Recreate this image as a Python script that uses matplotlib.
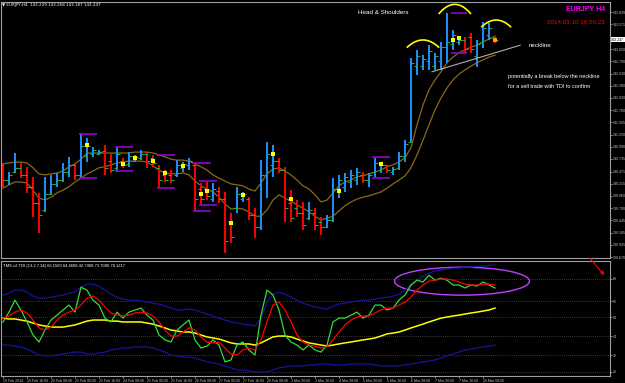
import numpy as np
import matplotlib
matplotlib.use("Agg")
import matplotlib.pyplot as plt
from matplotlib.patches import Ellipse
from matplotlib.transforms import blended_transform_factory

plt.rcParams['font.family'] = ['Liberation Sans', 'DejaVu Sans']

# EURJPY H4 bars, 19 Feb 2014 .. 10 Mar 2014 16:00
opens = [140.60, 140.30, 140.45, 140.55, 140.40, 140.15, 139.80, 139.65, 140.00, 140.20,
         140.30, 140.45, 140.60, 140.40, 140.80, 140.85, 140.85, 140.90, 140.70, 140.55,
         140.70, 140.62, 140.70, 140.75, 140.85, 140.75, 140.55, 140.40, 140.40, 140.40,
         140.55, 140.60, 140.60, 140.10, 140.10, 139.90, 140.05, 139.90, 139.40, 139.70,
         139.90, 139.90, 139.55, 139.30, 140.40, 140.60, 140.70, 140.50, 139.80, 139.70,
         139.60, 139.50, 139.60, 139.40, 139.30, 139.45, 140.10, 140.15, 140.25, 140.30,
         140.40, 140.30, 140.45, 140.50, 140.60, 140.45, 140.55, 140.80, 141.10, 142.70,
         142.70, 142.80, 142.70, 142.80, 143.10, 143.15, 143.20, 143.25, 143.30, 142.90,
         143.20, 143.35, 143.29]
highs = [140.65, 140.46, 140.86, 140.65, 140.57, 140.36, 140.02, 140.36, 140.40, 140.44,
         140.65, 140.78, 140.65, 141.28, 141.18, 140.99, 140.92, 141.03, 140.86, 140.99,
         140.76, 140.88, 140.82, 140.92, 140.88, 140.82, 140.61, 140.50, 140.50, 140.71,
         140.67, 140.76, 140.65, 140.23, 140.25, 140.23, 140.15, 140.04, 139.60, 140.15,
         140.04, 139.93, 139.70, 140.71, 141.09, 141.03, 140.76, 140.57, 140.08, 139.87,
         139.83, 139.83, 139.70, 139.51, 139.56, 140.33, 140.40, 140.44, 140.50, 140.55,
         140.46, 140.44, 140.76, 140.67, 140.61, 140.57, 140.88, 141.13, 142.86, 143.03,
         142.92, 143.13, 142.97, 143.20, 143.81, 143.45, 143.30, 143.30, 143.39, 143.24,
         143.62, 143.60, 143.30]
lows = [140.15, 140.19, 140.44, 140.33, 140.02, 139.51, 139.17, 139.62, 139.98, 140.15,
        140.25, 140.36, 140.29, 140.33, 140.67, 140.78, 140.82, 140.40, 140.44, 140.46,
        140.55, 140.57, 140.67, 140.71, 140.55, 140.57, 140.12, 140.25, 140.23, 140.36,
        140.46, 140.50, 139.62, 139.77, 139.87, 139.83, 139.81, 138.76, 138.97, 139.60,
        139.83, 139.45, 139.07, 139.24, 139.91, 140.36, 140.44, 139.41, 139.41, 139.51,
        139.24, 139.45, 139.24, 139.13, 139.28, 139.41, 139.91, 140.04, 140.12, 140.19,
        140.23, 140.15, 140.36, 140.44, 140.44, 140.40, 140.50, 140.67, 141.10, 142.50,
        142.61, 142.61, 142.61, 142.61, 142.76, 143.03, 143.13, 142.97, 142.97, 142.67,
        143.07, 143.24, 143.18]
closes = [140.30, 140.40, 140.55, 140.40, 140.15, 139.80, 139.55, 140.00, 140.20, 140.30,
          140.45, 140.60, 140.40, 141.00, 141.00, 140.92, 140.88, 140.55, 140.50, 140.85,
          140.60, 140.80, 140.78, 140.85, 140.70, 140.65, 140.30, 140.30, 140.30, 140.60,
          140.62, 140.70, 139.90, 139.90, 139.95, 140.10, 139.90, 139.00, 139.10, 140.00,
          140.00, 139.55, 139.30, 140.40, 140.85, 140.70, 140.50, 139.70, 139.50, 139.60,
          139.35, 139.65, 139.35, 139.30, 139.45, 140.10, 140.30, 140.35, 140.40, 140.45,
          140.30, 140.40, 140.65, 140.60, 140.50, 140.52, 140.80, 141.05, 142.75, 142.90,
          142.85, 143.00, 142.90, 143.10, 143.20, 143.35, 143.25, 143.05, 143.05, 143.15,
          143.50, 143.50, 143.25]

# two moving averages (fast / slow)
ma_fast = [140.63, 140.65, 140.67, 140.67, 140.65, 140.55, 140.42, 140.40, 140.42, 140.44,
           140.48, 140.57, 140.63, 140.73, 140.86, 140.86, 140.86, 140.86, 140.86, 140.86,
           140.86, 140.86, 140.88, 140.88, 140.88, 140.86, 140.82, 140.78, 140.73, 140.71,
           140.71, 140.69, 140.63, 140.57, 140.50, 140.40, 140.33, 140.27, 140.21, 140.19,
           140.17, 140.10, 140.06, 140.23, 140.42, 140.52, 140.55, 140.48, 140.40, 140.29,
           140.17, 140.10, 139.98, 139.83, 139.87, 140.02, 140.17, 140.25, 140.29, 140.36,
           140.38, 140.42, 140.46, 140.50, 140.57, 140.61, 140.67, 140.76, 140.97, 141.45,
           141.87, 142.19, 142.40, 142.57, 142.76, 142.88, 142.97, 143.03, 143.09, 143.13,
           143.20, 143.26, 143.32]
ma_slow = [140.12, 140.19, 140.25, 140.25, 140.23, 140.08, 139.91, 139.87, 139.93, 140.02,
           140.08, 140.15, 140.25, 140.33, 140.42, 140.48, 140.55, 140.57, 140.61, 140.65,
           140.67, 140.69, 140.69, 140.69, 140.67, 140.59, 140.50, 140.44, 140.42, 140.42,
           140.44, 140.40, 140.27, 140.17, 140.10, 140.04, 139.93, 139.79, 139.68, 139.70,
           139.68, 139.62, 139.53, 139.53, 139.66, 139.87, 139.98, 139.91, 139.85, 139.77,
           139.70, 139.62, 139.53, 139.45, 139.49, 139.53, 139.64, 139.75, 139.83, 139.89,
           139.93, 139.96, 140.00, 140.04, 140.12, 140.21, 140.29, 140.38, 140.55, 140.82,
           141.13, 141.45, 141.77, 142.02, 142.23, 142.40, 142.52, 142.61, 142.69, 142.76,
           142.82, 142.88, 142.92]

# fractal dots (bar index, price)
dot_idx = [14, 20, 22, 25, 27, 30, 33, 34, 38, 40, 45, 48, 56, 63, 75, 76]
dot_px = [141.03, 140.63, 140.76, 140.69, 140.44, 140.59, 139.99, 140.06, 139.39, 139.98,
          140.84, 139.89, 140.06, 140.63, 143.24, 143.28]

# range boxes: start idx, end idx, top, bottom
box_x0 = [12.7, 18.7, 25.7, 31.7, 32.7, 61.5, 74.7]
box_x1 = [15.7, 21.7, 28.7, 34.7, 35.7, 64.5, 77.3]
box_top = [141.26, 140.99, 140.82, 140.65, 140.27, 140.78, 143.81]
box_bot = [140.33, 140.48, 140.12, 139.63, 139.77, 140.33, 142.97]

price_ticks = [138.670, 138.925, 139.185, 139.445, 139.700, 139.960, 140.215, 140.471,
               140.735, 140.990, 141.250, 141.505, 141.760, 142.020, 142.280, 142.530,
               142.790, 143.050, 143.571, 143.829]

# TDI sub-window
tdi_green = [47.7, 52.3, 57.9, 53.3, 47.7, 41.6, 38.3, 43.9, 48.6, 50.9,
             53.3, 55.6, 52.3, 64.0, 62.6, 57.9, 55.6, 49.5, 47.7, 52.3,
             49.5, 52.3, 53.3, 54.2, 50.9, 48.6, 41.6, 39.3, 38.3, 43.9,
             46.3, 48.6, 39.3, 35.5, 36.4, 39.3, 36.9, 29.0, 29.9, 36.9,
             38.3, 34.6, 32.2, 50.9, 62.6, 60.3, 53.3, 41.6, 38.3, 36.9,
             34.6, 36.9, 34.6, 33.6, 36.9, 47.7, 49.5, 49.5, 50.9, 52.3,
             49.5, 50.9, 55.6, 55.6, 53.3, 54.2, 57.9, 60.3, 65.0, 67.3,
             66.4, 69.6, 67.3, 68.2, 67.3, 65.0, 65.0, 63.6, 65.0, 64.5,
             66.4, 65.0, 63.6]
tdi_red = [49.5, 50.5, 52.3, 53.3, 51.9, 48.6, 44.9, 43.9, 45.3, 48.6, 50.9, 52.3, 53.3,
           55.6, 58.9, 59.8, 57.9, 54.7, 51.9, 50.9, 50.5, 50.9, 51.9, 52.3, 51.9, 50.5,
           47.7, 43.9, 41.1, 41.1, 43.0, 44.9, 43.9, 40.7, 38.3, 37.9, 38.3, 35.5, 32.7,
           32.2, 34.6, 35.5, 34.6,
           39.3, 47.7, 55.6, 57.0, 53.3, 47.7, 41.6, 38.3, 36.9, 36.4, 35.5, 36.0,
           39.3, 43.0, 46.3, 48.6, 50.0, 50.5, 50.5, 51.9, 53.3, 54.2, 54.2, 55.6, 57.0,
           59.3, 62.6, 65.0, 66.8, 67.3, 67.8, 67.8, 67.3, 66.4, 65.4, 65.0, 65.0, 65.4,
           65.4, 65.0]
tdi_yellow = [49.5, 49.1, 49.1, 48.6, 48.1, 47.2, 46.3, 45.8, 45.3, 45.3, 45.3,
              45.8, 46.3, 47.2, 48.1, 48.6, 48.6, 48.6, 48.1, 48.1, 47.7, 47.7, 47.7, 47.7,
              47.2, 46.7,
              45.8, 44.9, 43.9, 43.5, 43.0, 43.0, 42.5, 41.6, 40.7, 40.2, 39.7, 38.8, 37.9,
              37.4, 37.4, 37.4, 36.9,
              37.9, 39.3, 40.7, 41.1, 41.1, 40.7, 39.7, 38.8, 37.9, 37.4, 36.9, 36.4,
              36.9, 37.4, 37.9, 38.3, 38.8, 39.3, 39.7, 40.2, 41.1, 42.1, 42.5, 43.0, 43.9,
              44.9, 45.8, 46.7, 47.7, 48.6, 49.5, 50.0, 50.5, 50.9, 51.4, 51.9, 52.3, 52.8,
              53.3, 54.2]
tdi_upper = [60.3, 61.2, 62.6, 62.6, 61.7, 59.8, 58.9, 58.9, 59.3, 59.8, 60.3, 61.2, 61.7,
             64.0, 65.4, 65.4, 64.5, 62.6, 60.7, 59.3, 58.4, 57.9, 57.9, 57.5, 57.0, 56.5,
             56.1, 55.1, 54.2, 53.3, 53.3, 53.7, 53.3, 52.3, 51.4, 50.5, 49.5, 48.6, 47.7,
             47.2, 46.7, 46.3, 45.8,
             49.5, 57.0, 60.7, 61.7, 60.7, 59.3, 57.9, 56.5, 55.6, 54.7, 54.2, 53.7,
             55.1, 56.1, 56.5, 57.0, 57.5, 57.9, 57.9, 58.4, 58.9, 59.3, 59.8, 60.7, 62.6,
             65.0, 67.3, 69.2, 70.6, 71.5, 72.0, 72.4, 72.9, 72.9, 73.4, 73.4, 73.8, 73.8,
             74.3, 74.3]
tdi_lower = [36.9, 36.9, 36.4, 36.0, 35.0, 33.6, 32.2, 31.8, 31.8, 32.2, 32.7, 33.2, 33.6,
             33.6, 32.7, 32.7, 33.2, 33.6, 34.6, 35.0, 35.5, 35.5, 36.0, 36.0, 36.0, 35.5,
             34.6, 33.6, 32.2, 31.8, 31.3, 31.3, 30.8, 29.9, 29.0, 28.5, 28.0, 27.1, 26.2,
             25.2, 25.2, 24.8, 24.3,
             24.3, 24.3, 25.2, 26.2, 26.6, 27.1, 27.1, 27.1, 27.6, 27.6, 28.0, 28.0,
             27.6, 27.6, 27.6, 28.0, 28.0, 28.0, 28.0, 27.6, 27.1, 27.1, 27.1, 27.1, 27.6,
             28.0, 28.5, 29.0, 29.4, 29.9, 30.8, 31.8, 32.7, 33.6, 34.6, 35.0, 35.5, 36.0,
             36.4, 36.9]
tdi_levels = [68, 57.5, 50, 41, 32, 24.3]
tdi_level_labels = ['68', '56', '50', '44', '32', '20']

date_labels = ['19 Feb 2014', '19 Feb 16:00', '20 Feb 08:00', '21 Feb 00:00', '21 Feb 16:00',
               '24 Feb 08:00', '25 Feb 00:00', '25 Feb 16:00', '26 Feb 08:00', '27 Feb 00:00',
               '27 Feb 16:00', '28 Feb 08:00', '3 Mar 00:00', '3 Mar 16:00', '4 Mar 08:00',
               '5 Mar 00:00', '5 Mar 16:00', '6 Mar 08:00', '7 Mar 00:00', '7 Mar 16:00',
               '10 Mar 08:00']

idx = np.arange(len(closes))
o = np.array(opens); c = np.array(closes)
up = c >= o

fig = plt.figure(figsize=(6.25, 3.83), dpi=100, facecolor='black')
ax = fig.add_axes([0.0016, 0.3264, 0.9744, 0.6684], facecolor='black')
ax2 = fig.add_axes([0.0016, 0.0183, 0.9744, 0.300], facecolor='black')

# price panel
ax.plot(idx, ma_fast, color='#8b6914', lw=0.9)
ax.plot(idx, ma_slow, color='#8b6914', lw=0.9)
cols = np.where(up, '#1e90ff', '#ff0000')
ax.vlines(idx, lows, highs, colors=cols, lw=1.4)
ax.hlines(o, idx - 0.5, idx, colors='#20b040', lw=0.8)
ax.hlines(c, idx, idx + 0.5, colors='#20b040', lw=0.8)
ax.hlines(box_top, box_x0, box_x1, colors='#9400d3', lw=1.2)
ax.hlines(box_bot, box_x0, box_x1, colors='#9400d3', lw=1.2)
ax.scatter(dot_idx, dot_px, marker='s', s=5, color='#ffff00', lw=0, zorder=5)
ax.scatter([82], [143.247], marker='s', s=6, color='#ffa000', lw=0, zorder=5)

# head & shoulders marks
ax.plot([71.5, 86.2], [142.57, 143.13], color='#b8a8b8', lw=0.8)
for cx, hw, top, end in [(70.0, 2.6, 143.24, 143.09), (75.3, 2.6, 143.99, 143.80),
                         (82.2, 2.4, 143.66, 143.52)]:
    xs = np.linspace(cx - hw, cx + hw, 30)
    ax.plot(xs, top - (top - end) * ((xs - cx) / hw) ** 2, color='#ffff00', lw=1.2)

ax.text(59.2, 143.78, 'Head & Shoulders', color='white', fontsize=4.5)
ax.text(87.6, 143.13, 'neckline', color='white', fontsize=4.5, va='center')
ax.text(84.2, 142.47, 'potentially a break below the neckline', color='white', fontsize=4.0,
        va='center')
ax.text(84.2, 142.26, 'for a sell trade with TDI to confirm', color='white', fontsize=4.0,
        va='center')

ax.set_xlim(-0.33, 101.17)
ax.set_ylim(138.65, 144.04)
ax.yaxis.tick_right()
ax.set_yticks(price_ticks)
ax.set_yticklabels(['%.3f' % t for t in price_ticks])
ax.tick_params(axis='y', colors='#c0c0c0', labelsize=2.6, length=1.5, width=0.5, pad=0.8)
ax.tick_params(axis='x', bottom=False, labelbottom=False)

tr = blended_transform_factory(ax.transAxes, ax.transData)
ax.text(1.002, 143.247, '143.247', transform=tr, fontsize=2.6, color='black', va='center',
        bbox=dict(boxstyle='square,pad=0.15', fc='white', ec='none'))

# TDI panel
for lv in tdi_levels:
    ax2.axhline(lv, color='#707070', lw=0.5, ls=(0, (1, 2)))
ax2.plot(idx, tdi_upper, color='#1414a0', lw=0.9)
ax2.plot(idx, tdi_lower, color='#1414a0', lw=0.9)
ax2.plot(idx, tdi_yellow, color='#ffff00', lw=1.1)
ax2.plot(idx, tdi_green, color='#33dd33', lw=0.9)
ax2.plot(idx, tdi_red, color='#ff0000', lw=0.9)
ax2.add_patch(Ellipse((76.5, 66.8), 22.5, 13.1, fill=False, ec='#c040ff', lw=1))

ax2.set_xlim(-0.33, 101.17)
ax2.set_ylim(22.4, 76.2)
ax2.yaxis.tick_right()
ax2.set_yticks(tdi_levels)
ax2.set_yticklabels(tdi_level_labels)
ax2.tick_params(axis='y', colors='#c0c0c0', labelsize=2.6, length=1.5, width=0.5, pad=0.8)
ax2.set_xticks(idx[::4])
ax2.set_xticklabels(date_labels, ha='left')
ax2.tick_params(axis='x', colors='#c0c0c0', labelsize=2.6, length=1.5, width=0.5, pad=0.5)

for a in (ax, ax2):
    for s in a.spines.values():
        s.set_color('#a0a0a0')
        s.set_linewidth(0.8)

fig.text(0.004, 0.992, '\u25bc EURJPY,H4  143.229 143.268 143.187 143.247', color='white',
         fontsize=3.0, va='top', family=['DejaVu Sans'])
fig.text(0.005, 0.312, 'TMS v2 TDI (13,2,7,34) 66.1560 64.4608 42.7908 73.7090 78.1217',
         color='white', fontsize=3.0, va='top')
fig.text(0.968, 0.976, 'EURJPY H4', color='#ff00ff', fontsize=5, fontweight='bold',
         ha='right', va='center')
fig.text(0.968, 0.94, '2014.03.10 16:50:23', color='#ff0000', fontsize=4.5, ha='right',
         va='center')

fig.add_artist(matplotlib.patches.FancyArrowPatch(
    (0.941, 0.331), (0.970, 0.276), transform=fig.transFigure, color='#ff0000',
    arrowstyle='-|>', mutation_scale=5, lw=0.8))

fig.savefig('out.png', dpi=100, facecolor='black')
